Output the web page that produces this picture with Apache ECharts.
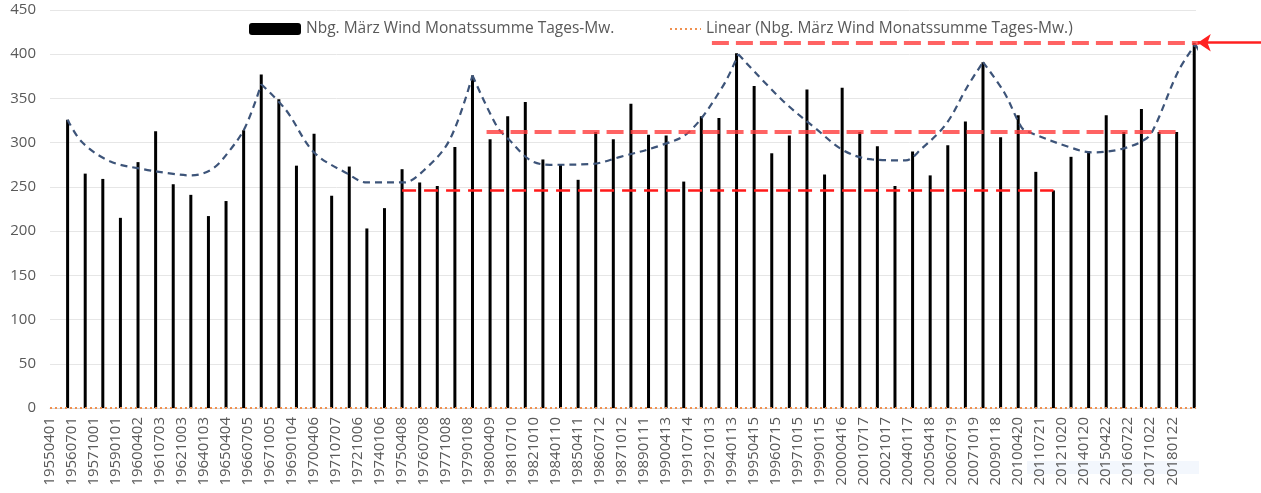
<!DOCTYPE html>
<html>
<head>
<meta charset="utf-8">
<title>Nbg. März Wind</title>
<script src="https://cdn.jsdelivr.net/npm/echarts@6/dist/echarts.min.js"></script>
<style>
    html, body { margin: 0; padding: 0; background: #fff; }
    #chart { width: 1261px; height: 493px; }
</style>
</head>
<body>
<div id="chart"></div>
<script>
    // Jahre der Balken (März) und Monatssummen der Tagesmittel
    const years = [];
    for (let y = 1955; y <= 2019; y++) years.push(y);
    const windSum = [
        326, 265, 259, 215, 278, 313, 253, 241, 217, 234,
        314, 377, 349, 274, 310, 240, 273, 203, 226, 270,
        255, 251, 295, 376, 304, 330, 346, 281, 275, 258,
        312, 304, 344, 309, 308, 256, 330, 328, 401, 364,
        288, 308, 360, 264, 362, 312, 296, 251, 290, 263,
        297, 324, 391, 306, 331, 267, 246, 284, 290, 331,
        312, 338, 312, 312, 413
    ];

    // Achsenbeschriftungen (Datumsachse, alle 15 Monate)
    const dateLabels = [
        '19550401', '19560701', '19571001', '19590101', '19600402', '19610703', '19621003', '19640103',
        '19650404', '19660705', '19671005', '19690104', '19700406', '19710707', '19721006', '19740106',
        '19750408', '19760708', '19771008', '19790108', '19800409', '19810710', '19821010', '19840110',
        '19850411', '19860712', '19871012', '19890111', '19900413', '19910714', '19921013', '19940113',
        '19950415', '19960715', '19971015', '19990115', '20000416', '20010717', '20021017', '20040117',
        '20050418', '20060719', '20071019', '20090118', '20100420', '20110721', '20121020', '20140120',
        '20150422', '20160722', '20171022', '20180122'
    ];
    const yTicks = [0, 50, 100, 150, 200, 250, 300, 350, 400, 450];

    // lineare Trendlinie (liegt bei 0)
    const trendX = [1954, 2019.1];
    const trendY = [0, 0];

    // gezeichnete Bogenlinie (blau gestrichelt), Spitzen trennen die Bögen
    const curveX = [
        1955.0, 1955.8, 1957.4, 1959.3, 1960.9, 1962.0, 1963.2, 1964.2, 1965.1, 1966.0,
        1967.4, 1969.0, 1970.9, 1972.0, 1974.1, 1975.2, 1976.7, 1978.0,
        1979.4, 1980.1, 1981.3, 1982.4, 1984.8, 1986.4, 1988.7, 1990.3, 1992.2, 1993.1,
        1995.6, 1997.5, 1999.1, 2000.7, 2002.6, 2003.5, 2004.9, 2006.1, 2007.0,
        2008.2, 2009.2, 2009.6, 2011.9, 2013.2, 2014.9, 2016.3, 2016.8, 2018.1, 2019.06,
        2020.0, 2021.6, 2022.8
    ];
    const curveY = [
        326, 301, 279, 270, 265, 263, 270, 291, 318, 366,
        337, 289, 265, 255, 255, 268, 303, 376,
        318, 303, 280, 275, 276, 284, 297, 312, 363, 400,
        348, 316, 291, 281, 280, 293, 321, 363, 391,
        357, 317, 312, 295, 289, 293, 305, 320, 381, 411,
        381, 337, 314
    ];
    const curvePeaks = [9, 17, 27, 36, 46];

    // rote Markierungslinien [von, bis, Wert]
    const redLow = [1974.0, 2011.0, 246];
    const redMid = [1978.8, 2018.1, 312];
    const redTop = [1991.6, 2019.3, 413];
    const redArrow = [2022.8, 2019.2, 413];

    const seriesName = 'Nbg. März Wind Monatssumme Tages-Mw.';
    const trendName = 'Linear (Nbg. März Wind Monatssumme Tages-Mw.)';
    const fontFamily = '"Open Sans", "Noto Sans", sans-serif';
    const textColor = '#595959';
    const trendColor = '#F0904F';

    const myChart = echarts.init(document.getElementById('chart'), null, { renderer: 'canvas' });

    // Bögen an den Spitzen aufteilen, damit die Spitzen spitz bleiben
    const curveSeries = [];
    let start = 0;
    curvePeaks.concat([curveX.length - 1]).forEach(function (end) {
        const pts = [];
        for (let i = start; i <= end; i++) pts.push([curveX[i], curveY[i]]);
        curveSeries.push({
            type: 'line',
            data: pts,
            smooth: 0.35,
            symbol: 'none',
            clip: false,
            silent: true,
            z: 4,
            lineStyle: { color: '#3D5479', width: 2.2, type: [7, 5] }
        });
        start = end;
    });

    function redLine(def, color, width, dash, arrow) {
        return {
            type: 'lines',
            coordinateSystem: 'cartesian2d',
            clip: false,
            silent: true,
            z: 5,
            symbol: arrow ? ['none', 'arrow'] : 'none',
            symbolSize: arrow ? 13 : 0,
            lineStyle: { color: color, width: width, type: dash, opacity: 1 },
            data: [{ coords: [[def[0], def[2]], [def[1], def[2]]] }]
        };
    }

    const option = {
        animation: false,
        backgroundColor: '#ffffff',
        textStyle: { fontFamily: fontFamily },
        grid: { left: 50, right: 65, top: 10, bottom: 85 },
        legend: [
            {
                data: [seriesName],
                left: 244,
                top: 16,
                itemWidth: 52,
                itemHeight: 12,
                textStyle: { color: textColor, fontSize: 15.5, fontFamily: fontFamily }
            },
            {
                data: [trendName],
                left: 664,
                top: 16,
                itemWidth: 31,
                itemHeight: 12,
                itemStyle: { opacity: 0 },
                lineStyle: { color: trendColor, width: 2, type: [2, 3] },
                textStyle: { color: textColor, fontSize: 15.5, fontFamily: fontFamily }
            }
        ],
        xAxis: {
            type: 'value',
            min: 1954,
            max: 2019.1,
            interval: 1.25,
            axisLine: { show: true, lineStyle: { color: '#D9D9D9' } },
            axisTick: { show: false },
            splitLine: { show: false },
            axisLabel: {
                rotate: 90,
                margin: 9,
                color: textColor,
                fontSize: 15,
                fontFamily: fontFamily,
                showMaxLabel: false,
                formatter: function (v) {
                    const k = Math.round((v - 1954) / 1.25);
                    return dateLabels[k] || '';
                }
            }
        },
        yAxis: {
            type: 'value',
            min: yTicks[0],
            max: yTicks[yTicks.length - 1],
            interval: 50,
            axisLine: { show: false },
            axisTick: { show: false },
            splitLine: { lineStyle: { color: '#E6E6E6', width: 1 } },
            axisLabel: { color: textColor, fontSize: 15, margin: 14, fontFamily: fontFamily }
        },
        graphic: [
            {
                type: 'rect',
                shape: { x: 1027, y: 461, width: 172, height: 13 },
                style: { fill: '#F3F7FD' },
                z: -1
            }
        ],
        series: [
            {
                name: seriesName,
                type: 'bar',
                barWidth: 3,
                itemStyle: { color: '#000000' },
                z: 3,
                data: years.map(function (y, i) { return [y, windSum[i]]; })
            },
            {
                name: trendName,
                type: 'line',
                symbol: 'none',
                z: 6,
                lineStyle: { color: trendColor, width: 2, type: [2, 3] },
                itemStyle: { color: trendColor },
                data: trendX.map(function (x, i) { return [x, trendY[i]]; })
            },
            redLine(redLow, '#FF1A1A', 2.5, [14, 8], false),
            redLine(redMid, 'rgba(255,60,60,0.8)', 4, [17, 7], false),
            redLine(redTop, 'rgba(255,60,60,0.8)', 4, [17, 7], false),
            redLine(redArrow, '#FF2020', 2.5, 'solid', true)
        ].concat(curveSeries)
    };

    myChart.setOption(option);
</script>
</body>
</html>
